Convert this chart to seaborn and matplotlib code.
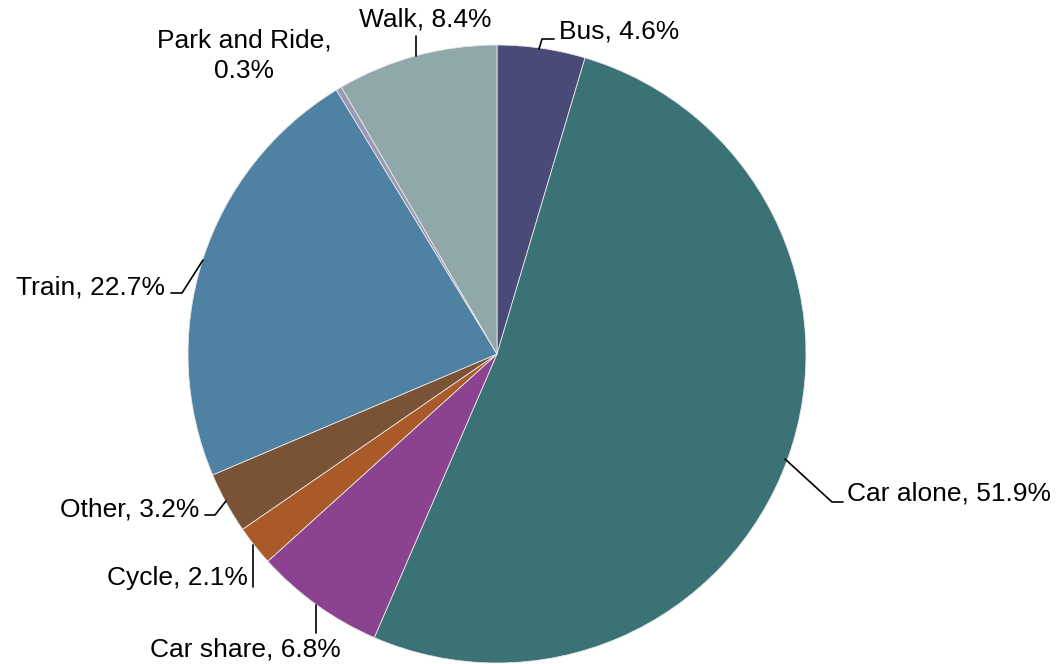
import matplotlib
matplotlib.use("Agg")
import matplotlib.pyplot as plt
import seaborn as sns

# Datos (orden horario desde las 12)
modes = ["Bus", "Car alone", "Car share", "Cycle", "Other", "Train",
         "Park and Ride", "Walk"]
shares = [4.6, 51.9, 6.8, 2.1, 3.2, 22.7, 0.3, 8.4]
colors = ["#4a4a79", "#3a7275", "#8b4390", "#aa5a28", "#7a5236",
          "#4f81a2", "#9a98b8", "#90a8aa"]

sns.set_theme(style="white")
plt.rcParams["font.family"] = ["Liberation Sans", "DejaVu Sans"]

W, H = 1057, 664
fig = plt.figure(figsize=(W / 100, H / 100), dpi=100)
ax = fig.add_axes([0, 0, 1, 1])

cx, cy, r = 497, H - 354, 309
ax.pie(shares, colors=colors, startangle=90, counterclock=False,
       center=(cx, cy), radius=r, frame=True,
       wedgeprops=dict(edgecolor="#e6e6e6", linewidth=0.6))
ax.set_xlim(0, W)
ax.set_ylim(0, H)
ax.set_aspect("equal")
ax.axis("off")

# Etiquetas: (texto x, texto y, alineación, puntos de la línea guía) en píxeles
layout = {
    "Bus": ((559, 31), "left", [(539, 49), (542, 39), (554, 39)]),
    "Car alone": ((847, 494), "left", [(785, 459), (832, 502), (843, 502)]),
    "Car share": ((245, 650), "center", [(316, 605), (316, 633)]),
    "Cycle": ((248, 578), "right", [(253, 545), (253, 587)]),
    "Other": ((199, 509), "right", [(226, 501), (215, 515), (205, 515)]),
    "Train": ((165, 287), "right", [(203, 260), (182, 293), (171, 293)]),
    "Park and Ride": ((244, 56), "center", []),
    "Walk": ((425, 20), "center", [(416, 56), (416, 36)]),
}

for mode, val in zip(modes, shares):
    (tx, ty), ha, pts = layout[mode]
    if mode == "Park and Ride":
        label = f"{mode},\n{val:.1f}%"
    else:
        label = f"{mode}, {val:.1f}%"
    ax.text(tx, H - ty, label, ha=ha, va="center", fontsize=19,
            color="black", linespacing=1.35)
    if pts:
        xs = [p[0] for p in pts]
        ys = [H - p[1] for p in pts]
        ax.plot(xs, ys, color="black", linewidth=1.2)

plt.savefig("out.png", dpi=100)
